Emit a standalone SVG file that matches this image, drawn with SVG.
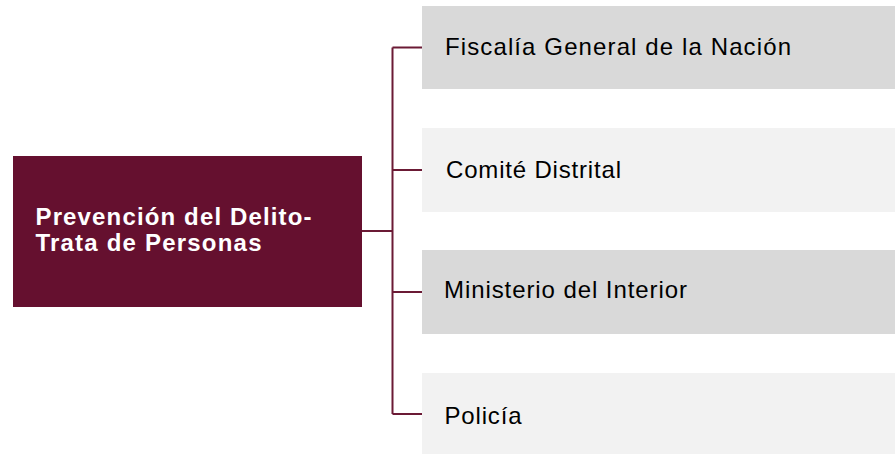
<svg xmlns="http://www.w3.org/2000/svg" width="895" height="454" viewBox="0 0 895 454">
<style>
.bx1{fill:#d9d9d9}
.bx2{fill:#f2f2f2}
.lbl{font-family:"Liberation Sans",Arial,sans-serif;font-size:24px;fill:#000}
.main{font-family:"Liberation Sans",Arial,sans-serif;font-size:24px;font-weight:bold;fill:#fff}
.con{fill:none;stroke:#6b1a35;stroke-width:2}
</style>
<rect width="895" height="454" fill="#fff"/>
<g id="connectors">
<path class="con" d="M362 231H392.5M392.5 47.5V414M392.5 47.5H422M392.5 170H422M392.5 292H422M392.5 414H422"/>
</g>
<g id="main">
<rect x="13" y="156" width="349" height="151" fill="#65102f"/>
<text class="main" x="35.5" y="224.5" textLength="276" lengthAdjust="spacing">Prevención del Delito-</text>
<text class="main" x="35.5" y="250.5" textLength="226" lengthAdjust="spacing">Trata de Personas</text>
</g>
<g id="fiscalia">
<rect class="bx1" x="422" y="6" width="473" height="83"/>
<text class="lbl" x="445" y="54.5" textLength="346" lengthAdjust="spacing">Fiscalía General de la Nación</text>
</g>
<g id="comite">
<rect class="bx2" x="422" y="128" width="473" height="84"/>
<text class="lbl" x="446" y="177.5" textLength="175" lengthAdjust="spacing">Comité Distrital</text>
</g>
<g id="ministerio">
<rect class="bx1" x="422" y="250" width="473" height="84"/>
<text class="lbl" x="444" y="297.5" textLength="243" lengthAdjust="spacing">Ministerio del Interior</text>
</g>
<g id="policia">
<rect class="bx2" x="422" y="373" width="473" height="84"/>
<text class="lbl" x="444.5" y="423.5" textLength="77" lengthAdjust="spacing">Policía</text>
</g>
</svg>
